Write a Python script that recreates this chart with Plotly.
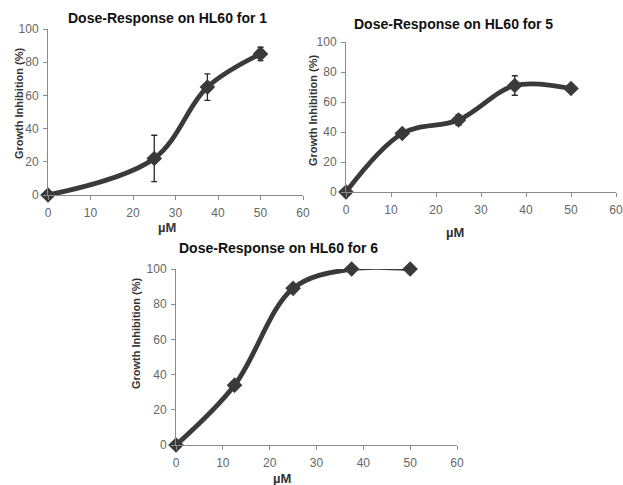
import plotly.graph_objects as go

# Data
dose = [0, 25, 37.5, 50]
inhib_1 = [0, 22, 65, 85]
err_1 = [0, 14, 8, 4]

dose_5 = [0, 12.5, 25, 37.5, 50]
inhib_5 = [0, 39, 48, 71, 69]
err_5 = [0, 1.5, 3.5, 6.5, 1]

dose_6 = [0, 12.5, 25, 37.5, 50]
inhib_6 = [0, 34, 89, 100, 100]

titles = ["Dose-Response on HL60 for 1", "Dose-Response on HL60 for 5", "Dose-Response on HL60 for 6"]
x_ticks = [0, 10, 20, 30, 40, 50, 60]
y_ticks = [0, 20, 40, 60, 80, 100]

W, H = 623, 485
LINE = "#3a3a3a"
FONT = "Liberation Sans, Arial, sans-serif"
TICK_COLOR = "#666666"

fig = go.Figure()

def px_x(p):
    return p / W

def px_y(p):
    return 1 - p / H

panels = [
    dict(x=dose, y=inhib_1, err=err_1, xd=(48, 303), yd=(29, 195), ax="", title=titles[0],
         tpos=(167, 18), ytpos=(19, 103), xtpos=(167, 227)),
    dict(x=dose_5, y=inhib_5, err=err_5, xd=(346, 616), yd=(42, 192), ax="2", title=titles[1],
         tpos=(453, 24), ytpos=(313, 110), xtpos=(455, 232)),
    dict(x=dose_6, y=inhib_6, err=None, xd=(176, 457), yd=(269, 445), ax="3", title=titles[2],
         tpos=(278, 248), ytpos=(136, 333), xtpos=(282, 478)),
]

annotations = []
for p in panels:
    tr = dict(
        x=p["x"], y=p["y"], mode="lines+markers",
        line=dict(color=LINE, width=4.8, shape="spline", smoothing=1),
        marker=dict(symbol="diamond", size=12, color=LINE),
        xaxis="x" + p["ax"], yaxis="y" + p["ax"], showlegend=False, cliponaxis=False,
    )
    if p["err"] is not None:
        tr["error_y"] = dict(type="data", array=p["err"], visible=True,
                             color="#2a2a2a", thickness=1.3, width=3)
    fig.add_trace(go.Scatter(**tr))
    xa = dict(domain=[px_x(p["xd"][0]), px_x(p["xd"][1])], range=[0, 60],
              tickvals=x_ticks, showline=True, linecolor="#8a8a8a", linewidth=1,
              ticks="outside", ticklen=4, tickcolor="#8a8a8a", showgrid=False, zeroline=False,
              tickfont=dict(family=FONT, size=12, color=TICK_COLOR), ticklabelstandoff=3,
              anchor="y" + p["ax"], fixedrange=True, automargin=False)
    ya = dict(domain=[px_y(p["yd"][1]), px_y(p["yd"][0])], range=[0, 100],
              tickvals=y_ticks, showline=True, linecolor="#8a8a8a", linewidth=1,
              ticks="outside", ticklen=4, tickcolor="#8a8a8a", showgrid=False, zeroline=False,
              tickfont=dict(family=FONT, size=12, color=TICK_COLOR), ticklabelstandoff=2,
              anchor="x" + p["ax"], fixedrange=True, automargin=False)
    fig.update_layout(**{"xaxis" + p["ax"]: xa, "yaxis" + p["ax"]: ya})
    annotations.append(dict(text="<b>" + p["title"] + "</b>", x=px_x(p["tpos"][0]), y=px_y(p["tpos"][1]),
                            xref="paper", yref="paper", showarrow=False,
                            font=dict(family=FONT, size=14, color="#111111"),
                            xanchor="center", yanchor="middle"))
    annotations.append(dict(text="<b>Growth Inhibition (%)</b>", x=px_x(p["ytpos"][0]), y=px_y(p["ytpos"][1]),
                            xref="paper", yref="paper", showarrow=False, textangle=-90,
                            font=dict(family=FONT, size=11, color="#333333"),
                            xanchor="center", yanchor="middle"))
    annotations.append(dict(text="<b>µM</b>", x=px_x(p["xtpos"][0]), y=px_y(p["xtpos"][1]),
                            xref="paper", yref="paper", showarrow=False,
                            font=dict(family=FONT, size=13, color="#333333"),
                            xanchor="center", yanchor="middle"))

fig.update_layout(template="none", width=W, height=H,
                  margin=dict(l=0, r=0, t=0, b=0, autoexpand=False),
                  paper_bgcolor="white", plot_bgcolor="white",
                  annotations=annotations)

fig.write_html("out.html", config={"displayModeBar": False},
               post_script="document.body.style.margin='0';document.body.style.overflow='hidden';")
